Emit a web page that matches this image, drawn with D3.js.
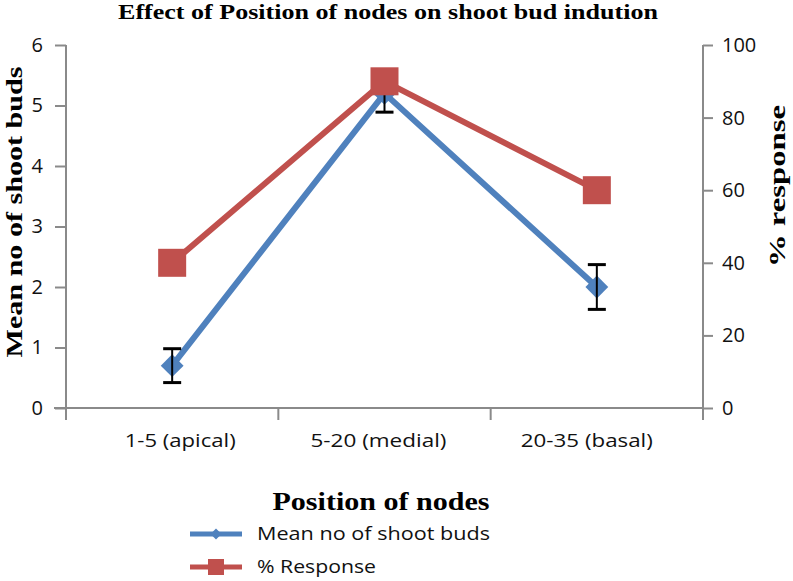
<!DOCTYPE html>
<html>
<head>
<meta charset="utf-8">
<script src="https://cdn.jsdelivr.net/npm/d3@7"></script>
<style>
  html, body { margin: 0; padding: 0; background: #fff; }
  svg { display: block; }
</style>
</head>
<body>
<svg id="chart" width="793" height="581"></svg>
<script>
const categories = ["1-5 (apical)", "5-20 (medial)", "20-35 (basal)"];
const meanShootBuds = [0.7, 5.2, 2.0];
const meanShootBudsErr = [0.28, 0.31, 0.37];
const percentResponse = [40, 90, 60];
const leftTicks = [0, 1, 2, 3, 4, 5, 6];
const rightTicks = [0, 20, 40, 60, 80, 100];
const seriesNames = ["Mean no of shoot buds", "% Response"];
const titleText = "Effect of Position of nodes on shoot bud indution";
const xTitle = "Position of nodes";
const yLeftTitle = "Mean no of shoot buds";
const yRightTitle = "% response";

const blue = "#4f81bd", red = "#c0504d", axisCol = "#8a8a8a";
const svg = d3.select("#chart");
const L = 66, R = 703, T = 45, B = 408;

const x = d3.scaleBand().domain(categories).range([L, R]);
const yL = d3.scaleLinear().domain([0, 6]).range([B, T]);
const yR = d3.scaleLinear().domain([0, 100]).range([B, T]);

const sans = "'Open Sans', 'Liberation Sans', sans-serif";
const serif = "'Liberation Serif', 'Times New Roman', serif";

// Title
svg.append("text").attr("x", 388).attr("y", 19).attr("text-anchor", "middle")
  .attr("font-family", serif).attr("font-weight", "bold").attr("font-size", 21)
  .attr("textLength", 540).attr("lengthAdjust", "spacingAndGlyphs")
  .attr("fill", "#000").text(titleText);

// Left axis
const gL = svg.append("g").attr("transform", `translate(${L},0)`)
  .call(d3.axisLeft(yL).tickValues(leftTicks).tickSize(11).tickPadding(12).tickFormat(d3.format("d")));
// Right axis
const gR = svg.append("g").attr("transform", `translate(${R},0)`)
  .call(d3.axisRight(yR).tickValues(rightTicks).tickSize(10).tickPadding(9).tickFormat(d3.format("d")));
[gL, gR].forEach(g => {
  g.select(".domain").remove();
  g.selectAll(".tick line").attr("stroke", axisCol).attr("stroke-width", 2);
  g.selectAll(".tick text").attr("font-family", sans).attr("font-size", 20).attr("fill", "#111");
});
// axis lines (extending below zero like Excel)
svg.append("line").attr("x1", L).attr("x2", L).attr("y1", T).attr("y2", B + 12)
  .attr("stroke", axisCol).attr("stroke-width", 2);
svg.append("line").attr("x1", R).attr("x2", R).attr("y1", T).attr("y2", B + 12)
  .attr("stroke", axisCol).attr("stroke-width", 2);

// X axis
const gX = svg.append("g").attr("transform", `translate(0,${B})`)
  .call(d3.axisBottom(x).tickSize(0).tickPadding(26));
gX.select(".domain").remove();
gX.selectAll(".tick text").attr("font-family", sans).attr("font-size", 19).attr("fill", "#111")
  .attr("dx", (d, i) => [8, -6, -10][i])
  .attr("textLength", (d, i) => [111, 136, 132][i]).attr("lengthAdjust", "spacingAndGlyphs");
svg.append("line").attr("x1", L - 12).attr("x2", R).attr("y1", B).attr("y2", B)
  .attr("stroke", axisCol).attr("stroke-width", 2);
svg.selectAll(".xbound").data(categories.slice(1)).enter().append("line")
  .attr("x1", d => x(d)).attr("x2", d => x(d)).attr("y1", B).attr("y2", B + 12)
  .attr("stroke", axisCol).attr("stroke-width", 2);

// Axis titles
svg.append("text").attr("transform", "translate(22,212) rotate(-90)")
  .attr("text-anchor", "middle").attr("font-family", serif).attr("font-weight", "bold")
  .attr("font-size", 23).attr("textLength", 291).attr("lengthAdjust", "spacingAndGlyphs")
  .text(yLeftTitle);
svg.append("text").attr("transform", "translate(785,186) rotate(-90)")
  .attr("text-anchor", "middle").attr("font-family", serif).attr("font-weight", "bold")
  .attr("font-size", 23).attr("textLength", 162).attr("lengthAdjust", "spacingAndGlyphs")
  .text(yRightTitle);
svg.append("text").attr("x", 381).attr("y", 510).attr("text-anchor", "middle")
  .attr("font-family", serif).attr("font-weight", "bold").attr("font-size", 26)
  .attr("textLength", 217).attr("lengthAdjust", "spacingAndGlyphs")
  .text(xTitle);

const cx = d => x(d) + x.bandwidth() / 2;

// Blue series
const meanData = categories.map((c, i) => ({c, v: meanShootBuds[i], e: meanShootBudsErr[i]}));
svg.append("path").datum(meanData)
  .attr("d", d3.line().x(d => cx(d.c)).y(d => yL(d.v)))
  .attr("fill", "none").attr("stroke", blue).attr("stroke-width", 6).attr("stroke-linejoin", "round");
svg.selectAll(".dia").data(meanData).enter().append("path")
  .attr("d", d3.symbol().type(d3.symbolSquare).size(260))
  .attr("transform", d => `translate(${cx(d.c)},${yL(d.v)}) rotate(45)`)
  .attr("fill", blue);
// error bars
const eb = svg.selectAll(".eb").data(meanData).enter().append("g");
eb.append("line").attr("x1", d => cx(d.c)).attr("x2", d => cx(d.c))
  .attr("y1", d => yL(d.v + d.e)).attr("y2", d => yL(d.v - d.e))
  .attr("stroke", "#000").attr("stroke-width", 2);
eb.append("line").attr("x1", d => cx(d.c) - 9).attr("x2", d => cx(d.c) + 9)
  .attr("y1", d => yL(d.v + d.e)).attr("y2", d => yL(d.v + d.e))
  .attr("stroke", "#000").attr("stroke-width", 3);
eb.append("line").attr("x1", d => cx(d.c) - 9).attr("x2", d => cx(d.c) + 9)
  .attr("y1", d => yL(d.v - d.e)).attr("y2", d => yL(d.v - d.e))
  .attr("stroke", "#000").attr("stroke-width", 3);

// Red series
const respData = categories.map((c, i) => ({c, v: percentResponse[i]}));
svg.append("path").datum(respData)
  .attr("d", d3.line().x(d => cx(d.c)).y(d => yR(d.v)))
  .attr("fill", "none").attr("stroke", red).attr("stroke-width", 6).attr("stroke-linejoin", "round");
svg.selectAll(".sq").data(respData).enter().append("rect")
  .attr("x", d => cx(d.c) - 14).attr("y", d => yR(d.v) - 14)
  .attr("width", 28).attr("height", 28).attr("fill", red);

// Legend
const leg = svg.append("g");
const ly = [534, 567];
leg.append("line").attr("x1", 190).attr("x2", 242).attr("y1", ly[0]).attr("y2", ly[0])
  .attr("stroke", blue).attr("stroke-width", 5);
leg.append("path").attr("d", d3.symbol().type(d3.symbolSquare).size(60))
  .attr("transform", `translate(216,${ly[0]}) rotate(45)`).attr("fill", blue);
leg.append("line").attr("x1", 190).attr("x2", 242).attr("y1", ly[1]).attr("y2", ly[1])
  .attr("stroke", red).attr("stroke-width", 5);
leg.append("rect").attr("x", 208).attr("y", ly[1] - 8).attr("width", 16).attr("height", 16).attr("fill", red);
const legLens = [233, 119];
seriesNames.forEach((n, i) => {
  leg.append("text").attr("x", 257).attr("y", ly[i] + 6).attr("font-family", sans)
    .attr("font-size", 19).attr("fill", "#111")
    .attr("textLength", legLens[i]).attr("lengthAdjust", "spacingAndGlyphs").text(n);
});
</script>
</body>
</html>
